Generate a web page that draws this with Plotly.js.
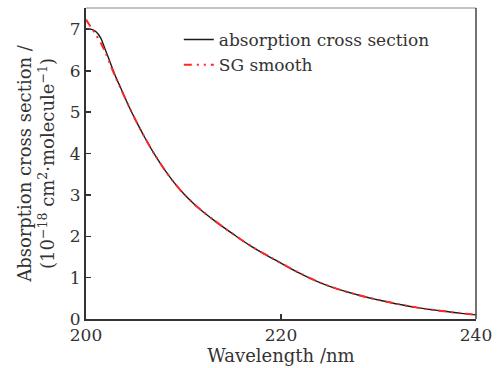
<!DOCTYPE html>
<html>
<head>
<meta charset="utf-8">
<script src="https://cdn.plot.ly/plotly-3.0.1.min.js"></script>
<style>html,body{margin:0;padding:0;background:#fff;}#plot{width:500px;height:368px;}</style>
</head>
<body>
<div id="plot"></div>
<script>
const wavelength = [200,200.5,201,201.5,202,202.5,203,203.5,204,204.5,205,205.5,206,207,208,209,210,211,212,213,214,215,216,217,218,219,220,221,222,223,224,225,226,227,228,229,230,231,232,233,234,235,236,237,238,239,240];
const crossSection = [7.02,7.01,6.95,6.80,6.50,6.19,5.88,5.62,5.35,5.09,4.85,4.62,4.40,3.99,3.63,3.31,3.035,2.80,2.595,2.41,2.235,2.07,1.905,1.75,1.61,1.48,1.35,1.22,1.10,0.985,0.88,0.79,0.71,0.64,0.575,0.515,0.46,0.41,0.36,0.315,0.275,0.24,0.21,0.18,0.15,0.125,0.10];
const sgSmooth = [7.24,7.06,6.88,6.68,6.44,6.15,5.86,5.60,5.35,5.09,4.85,4.62,4.40,3.99,3.63,3.31,3.035,2.80,2.595,2.41,2.235,2.07,1.905,1.75,1.61,1.48,1.35,1.22,1.10,0.985,0.88,0.79,0.71,0.64,0.575,0.515,0.46,0.41,0.36,0.315,0.275,0.24,0.21,0.18,0.15,0.125,0.10];
const seriesNames = ['absorption cross section','SG smooth'];
const xTicks = [200,220,240];
const yTicks = [0,1,2,3,4,5,6,7];

const font = 'DejaVu Serif, Liberation Serif, serif';
const ink = '#333';
const traces = [
  {x: wavelength, y: crossSection, name: seriesNames[0], mode: 'lines', line: {color: '#1a1a1a', width: 1.4, shape: 'spline', smoothing: 0.8}},
  {x: wavelength, y: sgSmooth, name: seriesNames[1], mode: 'lines', line: {color: '#ff2626', width: 2, dash: '8px,5px,2px,5px,2px,5px', shape: 'spline', smoothing: 0.8}}
];
const layout = {
  width: 500, height: 368,
  margin: {l: 86, r: 24, t: 8, b: 49},
  paper_bgcolor: '#fff', plot_bgcolor: '#fff',
  font: {family: font, size: 17, color: ink},
  showlegend: true,
  legend: {x: 0.238, y: 0.955, xanchor: 'left', yanchor: 'top', bgcolor: 'rgba(0,0,0,0)', font: {family: font, size: 17, color: ink}, tracegroupgap: 0, itemwidth: 30},
  xaxis: {
    range: [200, 240], tickvals: xTicks, ticktext: xTicks.map(String),
    ticks: 'inside', ticklen: 5, tickwidth: 1.5, tickcolor: ink,
    showline: true, linewidth: 2, linecolor: ink, mirror: false,
    showgrid: false, zeroline: false,
    title: {text: 'Wavelength /nm', font: {family: font, size: 18, color: ink}, standoff: 3},
    tickfont: {family: font, size: 17, color: ink}
  },
  yaxis: {
    range: [0, 7.52], tickvals: yTicks, ticktext: yTicks.map(String),
    ticks: 'inside', ticklen: 5, tickwidth: 1.5, tickcolor: ink,
    showline: true, linewidth: 2, linecolor: ink, mirror: false,
    showgrid: false, zeroline: false,
    title: {text: 'Absorption cross section /<br>(10<sup>−18</sup> cm<sup>2</sup>·molecule<sup>−1</sup>)', font: {family: font, size: 18, color: ink}, standoff: 10},
    tickfont: {family: font, size: 17, color: ink}
  },
  shapes: [
    {type: 'line', xref: 'paper', yref: 'paper', x0: 0, x1: 1, y0: 1, y1: 1, line: {color: '#888', width: 1}},
    {type: 'line', xref: 'paper', yref: 'paper', x0: 1, x1: 1, y0: 0, y1: 1, line: {color: '#444', width: 1.5}}
  ]
};
Plotly.newPlot('plot', traces, layout, {displayModeBar: false, staticPlot: true});
</script>
</body>
</html>
